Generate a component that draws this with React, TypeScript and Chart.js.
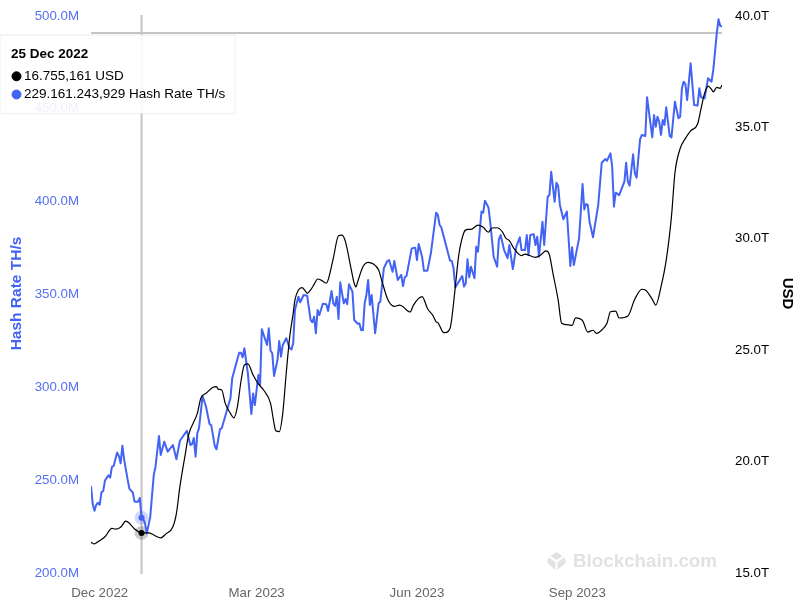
import { useEffect, useRef } from "react";
import { Chart, Plugin, Tooltip, registerables } from "chart.js";

Chart.register(...registerables);

// days counted from 26 Nov 2022
const hashDays = [
  0, 1, 2, 3, 4, 5, 6, 7, 8, 10, 11, 12, 13, 15, 16, 17, 18, 19, 21, 22, 24, 25, 27, 28, 29, 30, 31, 32, 34, 36, 37, 39,
  40, 42, 44, 47, 49, 51, 55, 57, 58, 59, 60, 61, 62, 64, 66, 68, 69, 71, 72, 74, 75, 80, 81, 85, 86, 87, 88, 90, 92, 93,
  94, 96, 97, 98, 101, 102, 103, 104, 105, 107, 108, 109, 110, 112, 114, 115, 116, 117, 119, 120, 122, 124, 126, 127, 128, 129, 130, 131, 133, 135,
  136, 138, 139, 140, 141, 142, 143, 145, 146, 147, 148, 150, 151, 153, 154, 155, 156, 157, 158, 159, 160, 161, 163, 165, 166, 168, 170, 171, 173, 174,
  176, 178, 179, 180, 181, 184, 186, 187, 188, 190, 191, 193, 195, 198, 199, 200, 201, 206, 207, 208, 209, 213, 214, 215, 216, 217, 218, 220, 221, 222,
  224, 225, 226, 228, 229, 231, 233, 234, 235, 237, 239, 240, 242, 244, 246, 247, 249, 250, 251, 252, 254, 255, 256, 257, 259, 260, 262, 263, 264, 266,
  267, 268, 269, 271, 273, 275, 276, 277, 280, 282, 283, 284, 285, 286, 288, 291, 293, 295, 296, 298, 299, 300, 301, 303, 306, 307, 308, 309, 311, 312,
  313, 315, 316, 318, 319, 322, 323, 324, 325, 326, 327, 328, 329, 330, 332, 333, 335, 337, 338, 339, 340, 341, 342, 344, 346, 348, 349, 350, 352, 354,
  356, 357, 359, 360, 361, 362,
];
const hashValues = [
  246.3, 236.6, 233.0, 236.2, 237.3, 236.2, 242.9, 243.6, 249.2, 252.1, 250.8, 256.6, 257.1, 264.3, 262.5, 258.5, 268.0, 260.7, 249.9, 244.9, 242.7, 237.9, 237.9, 239.9, 229.16, 228.5, 226.2, 220.8, 229.8, 252.2, 256.7, 273.2,
  263.0, 270.2, 264.8, 268.4, 260.7, 270.7, 276.1, 268.4, 268.9, 272.2, 262.1, 274.7, 277.6, 294.8, 289.0, 279.7, 279.0, 267.9, 266.1, 276.9, 277.4, 293.6, 304.3, 318.1, 318.1, 315.6, 320.5, 307.0, 285.1, 296.2,
  289.9, 306.1, 300.7, 330.7, 322.3, 331.3, 319.2, 317.8, 305.6, 314.2, 324.4, 316.0, 322.3, 325.9, 320.5, 319.9, 323.2, 341.1, 348.3, 345.3, 349.2, 348.8, 335.7, 334.5, 337.5, 328.6, 341.1, 338.4, 344.5, 344.2,
  340.6, 351.3, 344.7, 343.3, 348.3, 336.3, 356.0, 344.7, 347.0, 344.2, 355.0, 351.0, 335.7, 333.7, 333.9, 330.2, 330.3, 344.7, 349.2, 357.3, 343.8, 349.2, 328.6, 344.7, 345.6, 363.6, 367.5, 368.0, 361.7, 367.5,
  357.3, 360.0, 354.0, 358.7, 359.4, 374.3, 374.7, 368.0, 376.7, 369.5, 362.3, 362.3, 371.8, 393.5, 392.3, 386.9, 385.6, 367.7, 367.5, 363.6, 353.3, 359.4, 353.7, 355.5, 368.4, 358.7, 364.4, 358.2, 375.2, 372.5,
  394.1, 393.5, 400.0, 396.4, 388.7, 369.8, 364.4, 379.2, 381.5, 373.4, 369.0, 376.1, 363.2, 375.2, 380.3, 373.4, 373.4, 381.5, 370.7, 381.5, 381.9, 376.1, 380.6, 369.8, 388.7, 376.1, 402.1, 403.0, 415.6, 399.4,
  409.7, 407.9, 397.7, 390.0, 394.1, 364.8, 374.9, 365.3, 379.7, 409.0, 395.3, 398.2, 397.7, 388.7, 380.3, 397.7, 420.4, 422.4, 421.5, 425.5, 418.3, 396.8, 404.3, 403.0, 410.2, 420.4, 410.2, 408.1, 425.0, 414.7,
  412.4, 433.0, 435.4, 434.8, 455.7, 434.1, 446.1, 439.8, 445.2, 442.5, 435.4, 443.5, 440.8, 450.3, 434.8, 434.1, 453.3, 444.4, 445.2, 460.5, 464.1, 462.8, 454.2, 474.0, 451.5, 451.2, 460.5, 455.7, 455.1, 465.9,
  464.1, 470.4, 490.1, 497.7, 494.1, 493.7,
];

const priceDays = [
  0, 2, 4, 8, 12, 14, 17, 20, 22, 25, 29, 33, 36, 40, 43, 47, 49, 51, 54, 56, 61, 63, 66, 70, 72, 73, 75, 77, 80, 82, 84, 86,
  88, 90, 93, 96, 99, 103, 105, 106, 108, 110, 112, 114, 116, 117, 119, 121, 123, 124, 126, 128, 130, 132, 135, 136, 139, 142, 144, 146, 149, 151,
  152, 153, 156, 159, 162, 165, 167, 170, 172, 174, 177, 179, 181, 183, 185, 188, 190, 193, 196, 198, 199, 202, 203, 206, 207, 209, 211, 214, 216, 218,
  222, 225, 228, 230, 233, 236, 238, 240, 243, 247, 249, 255, 258, 261, 263, 265, 268, 270, 274, 276, 278, 282, 285, 288, 290, 293, 296, 298, 301, 303,
  308, 312, 316, 318, 322, 324, 327, 330, 333, 335, 338, 341, 344, 348, 350, 352, 354, 356, 357, 359, 361, 362,
];
const priceValues = [
  16.33, 16.26, 16.36, 16.58, 16.96, 16.92, 17.01, 17.28, 17.19, 16.93, 16.755, 16.76, 16.66, 16.53, 16.71, 17.03, 17.63, 18.83, 20.25, 21.15, 22.12, 22.8, 23.02, 23.29, 23.32, 23.2, 23.17, 22.57, 22.12, 21.92, 22.42, 23.54,
  24.29, 24.34, 23.84, 23.44, 23.17, 22.57, 21.67, 21.34, 21.3, 22.12, 23.92, 25.56, 26.61, 27.21, 27.66, 27.76, 27.61, 27.51, 27.66, 27.91, 28.15, 28.1, 27.96, 28.1, 29.08, 30.09, 30.12, 29.82, 28.7, 27.96,
  27.8, 28.03, 28.7, 28.9, 28.82, 28.55, 28.03, 27.28, 27.01, 26.92, 26.98, 26.91, 26.76, 26.67, 26.98, 27.28, 27.36, 26.83, 26.53, 26.23, 26.19, 25.76, 25.74, 25.94, 26.39, 27.8, 29.23, 30.25, 30.38, 30.38,
  30.57, 30.47, 30.25, 30.44, 30.45, 30.27, 29.98, 29.87, 29.48, 29.2, 29.27, 29.12, 29.23, 29.41, 29.23, 28.41, 27.21, 26.16, 26.09, 26.07, 26.41, 26.28, 25.77, 25.85, 25.71, 25.86, 26.16, 26.68, 26.71, 26.4,
  26.49, 27.25, 27.69, 27.66, 27.24, 26.98, 27.8, 29.0, 30.95, 32.91, 34.01, 34.46, 34.8, 35.11, 35.81, 36.48, 36.81, 36.66, 36.55, 36.75, 36.71, 36.86,
];

const monthTicks = [5, 95, 187, 279];
const monthLabels = ["Dec 2022", "Mar 2023", "Jun 2023", "Sep 2023"];
const hoverDay = 29;
const crosshairHash = 490.3;
const tooltipTitle = "25 Dec 2022";
const tooltipLines = ["16.755,161 USD", "229.161.243,929 Hash Rate TH/s"];

const FONT = "'Liberation Sans', Arial, sans-serif";
const BLUE = "#4363f2";
const BLUE_TEXT = "#5470f0";
const haloColors = ["rgba(0,0,0,0.2)", "rgba(67,99,242,0.25)"];

(Tooltip.positioners as any).pinned = () => ({ x: 0, y: 35 });

// hover crosshair, point halos and the watermark
const decorations: Plugin<"line"> = {
  id: "decorations",
  beforeDatasetsDraw(chart) {
    const { ctx, chartArea, scales } = chart;
    ctx.save();

    ctx.fillStyle = "#e2e2e2";
    ctx.font = `bold 18.8px ${FONT}`;
    ctx.textBaseline = "middle";
    ctx.fillText("Blockchain.com", 573, 562);
    const icon = [
      [[556.5, 552], [562.5, 556], [556.5, 560], [550.5, 556]],
      [[548.5, 557.5], [555.5, 562], [555.5, 570], [547, 562.5]],
      [[564.5, 557.5], [557.5, 562], [557.5, 570], [566, 562.5]],
    ];
    icon.forEach((shape) => {
      ctx.beginPath();
      shape.forEach(([px, py], i) => (i ? ctx.lineTo(px, py) : ctx.moveTo(px, py)));
      ctx.closePath();
      ctx.fill();
    });

    const x = scales.x.getPixelForValue(hoverDay);
    const y = scales.hash.getPixelForValue(crosshairHash);
    ctx.strokeStyle = "#c4c4c4";
    ctx.lineWidth = 2;
    ctx.beginPath();
    ctx.moveTo(x, chartArea.top);
    ctx.lineTo(x, chartArea.bottom + 2);
    ctx.moveTo(chartArea.left, y);
    ctx.lineTo(chartArea.right, y);
    ctx.stroke();

    chart.getActiveElements().forEach((item) => {
      ctx.fillStyle = haloColors[item.datasetIndex];
      ctx.beginPath();
      ctx.arc(item.element.x, item.element.y, 7, 0, Math.PI * 2);
      ctx.fill();
    });
    ctx.restore();
  },
};

export default function App() {
  const canvasRef = useRef<HTMLCanvasElement | null>(null);

  useEffect(() => {
    if (!canvasRef.current) return;
    const chart = new Chart(canvasRef.current, {
      type: "line",
      data: {
        datasets: [
          {
            label: "USD",
            yAxisID: "usd",
            data: priceDays.map((d, i) => ({ x: d, y: priceValues[i] })),
            borderColor: "#000000",
            borderWidth: 1.2,
            borderJoinStyle: "round",
            cubicInterpolationMode: "monotone",
            pointHoverBackgroundColor: "#000000",
          },
          {
            label: "Hash Rate TH/s",
            yAxisID: "hash",
            data: hashDays.map((d, i) => ({ x: d, y: hashValues[i] })),
            borderColor: BLUE,
            borderWidth: 2,
            borderJoinStyle: "round",
            pointHoverBackgroundColor: BLUE,
          },
        ],
      },
      options: {
        responsive: false,
        animation: false,
        events: [],
        devicePixelRatio: 1,
        layout: { padding: { top: 15 } },
        elements: {
          line: { tension: 0 },
          point: { radius: 0, hoverRadius: 3, hoverBorderWidth: 0 },
        },
        scales: {
          x: {
            type: "linear",
            min: 0,
            max: 362,
            grid: { display: false, drawTicks: false },
            border: { display: false },
            afterFit: (scale) => {
              scale.height = 33;
              scale.paddingLeft = 0;
              scale.paddingRight = 0;
            },
            afterBuildTicks: (scale) => {
              scale.ticks = monthTicks.map((value) => ({ value }));
            },
            ticks: {
              padding: 13,
              color: "#666666",
              maxRotation: 0,
              autoSkip: false,
              font: { family: FONT, size: 13.3 },
              callback: (value) => monthLabels[monthTicks.indexOf(Number(value))],
            },
          },
          hash: {
            position: "left",
            min: 200,
            max: 500,
            grid: { display: false, drawTicks: false },
            border: { display: false },
            afterFit: (scale) => {
              scale.width = 91;
              scale.paddingTop = 0;
              scale.paddingBottom = 0;
            },
            ticks: {
              stepSize: 50,
              padding: 12,
              labelOffset: 1,
              color: BLUE_TEXT,
              font: { family: FONT, size: 13.3 },
              callback: (value) => `${Number(value).toFixed(1)}M`,
            },
            title: {
              display: true,
              text: "Hash Rate TH/s",
              color: BLUE,
              padding: { top: 7, bottom: 0 },
              font: { family: FONT, size: 15.5, weight: "bold" },
            },
          },
          usd: {
            position: "right",
            min: 15,
            max: 40,
            grid: { display: false, drawTicks: false },
            border: { display: false },
            afterFit: (scale) => {
              scale.width = 81;
              scale.paddingTop = 0;
              scale.paddingBottom = 0;
            },
            ticks: {
              stepSize: 5,
              padding: 13,
              labelOffset: 1,
              color: "#000000",
              font: { family: FONT, size: 13.3 },
              callback: (value) => `${Number(value).toFixed(1)}T`,
            },
            title: {
              display: true,
              text: "USD",
              color: "#000000",
              padding: { top: 7, bottom: 0 },
              font: { family: FONT, size: 15, weight: "bold" },
            },
          },
        },
        plugins: {
          legend: { display: false },
          tooltip: {
            enabled: true,
            position: "pinned" as any,
            xAlign: "left",
            yAlign: "top",
            caretSize: 0,
            caretPadding: 0,
            cornerRadius: 0,
            backgroundColor: "rgba(255,255,255,0.9)",
            borderColor: "rgba(225,225,225,0.6)",
            borderWidth: 1,
            titleColor: "#000000",
            bodyColor: "#000000",
            titleFont: { family: FONT, size: 13.5, weight: "bold" },
            bodyFont: { family: FONT, size: 13.5 },
            titleMarginBottom: 6,
            bodySpacing: 2,
            padding: { top: 11, left: 11, right: 10, bottom: 11 },
            usePointStyle: true,
            boxWidth: 11,
            boxHeight: 9,
            callbacks: {
              title: () => tooltipTitle,
              label: (item) => tooltipLines[item.datasetIndex],
              labelColor: (item) => {
                const color = item.datasetIndex === 0 ? "#000000" : BLUE;
                return { backgroundColor: color, borderColor: color };
              },
              labelPointStyle: () => ({ pointStyle: "circle", rotation: 0 }),
            },
          },
        },
      },
      plugins: [decorations],
    });

    const active = [
      { datasetIndex: 0, index: priceDays.indexOf(hoverDay) },
      { datasetIndex: 1, index: hashDays.indexOf(hoverDay) },
    ];
    chart.setActiveElements(active);
    chart.tooltip?.setActiveElements(active, { x: 0, y: 35 });
    chart.render();

    return () => chart.destroy();
  }, []);

  return (
    <canvas
      ref={canvasRef}
      width={803}
      height={605}
      style={{ position: "absolute", left: 0, top: 0, display: "block" }}
    />
  );
}
